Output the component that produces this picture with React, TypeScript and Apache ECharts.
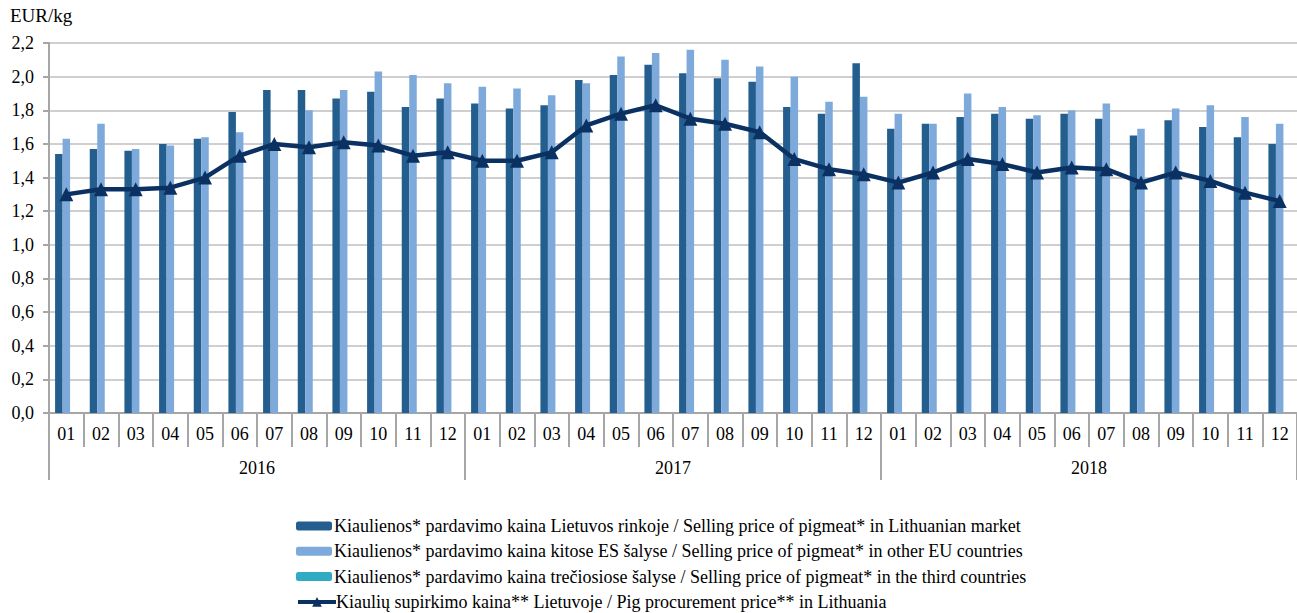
import React, { useEffect, useRef } from "react";
import * as echarts from "echarts";

const months = [
  "01","02","03","04","05","06","07","08","09","10","11","12",
  "01","02","03","04","05","06","07","08","09","10","11","12",
  "01","02","03","04","05","06","07","08","09","10","11","12",
];
const years = ["2016", "2017", "2018"];

const lithuanianMarket = [
  1.54, 1.57, 1.56, 1.60, 1.63, 1.79, 1.92, 1.92, 1.87, 1.91, 1.82, 1.87,
  1.84, 1.81, 1.83, 1.98, 2.01, 2.07, 2.02, 1.99, 1.97, 1.82, 1.78, 2.08,
  1.69, 1.72, 1.76, 1.78, 1.75, 1.78, 1.75, 1.65, 1.74, 1.70, 1.64, 1.60,
];
const otherEU = [
  1.63, 1.72, 1.57, 1.59, 1.64, 1.67, 1.56, 1.80, 1.92, 2.03, 2.01, 1.96,
  1.94, 1.93, 1.89, 1.96, 2.12, 2.14, 2.16, 2.10, 2.06, 2.00, 1.85, 1.88,
  1.78, 1.72, 1.90, 1.82, 1.77, 1.80, 1.84, 1.69, 1.81, 1.83, 1.76, 1.72,
];
const thirdCountries: (number | null)[] = months.map(() => null);
const procurement = [
  1.30, 1.33, 1.33, 1.34, 1.40, 1.53, 1.60, 1.58, 1.61, 1.59, 1.53, 1.55,
  1.50, 1.50, 1.55, 1.71, 1.78, 1.83, 1.75, 1.72, 1.67, 1.51, 1.45, 1.42,
  1.37, 1.43, 1.51, 1.48, 1.43, 1.46, 1.45, 1.37, 1.43, 1.38, 1.31, 1.26,
];

const seriesNames = [
  "Kiaulienos* pardavimo kaina Lietuvos rinkoje / Selling price of pigmeat* in Lithuanian market",
  "Kiaulienos* pardavimo kaina kitose ES šalyse / Selling price of pigmeat* in other EU countries",
  "Kiaulienos* pardavimo kaina trečiosiose šalyse / Selling price of pigmeat* in the third countries",
  "Kiaulių supirkimo kaina** Lietuvoje / Pig procurement price** in Lithuania",
];

const FONT = "Liberation Serif";
const GRAY = "#a6a6a6";
const NAVY = "#0b3163";

export default function App() {
  const ref = useRef<HTMLDivElement>(null);
  useEffect(() => {
    if (!ref.current) return;
    const chart = echarts.init(ref.current, undefined, { renderer: "svg" });
    chart.setOption({
      animation: false,
      backgroundColor: "#ffffff",
      textStyle: { fontFamily: FONT, color: "#000" },
      grid: { left: 49, right: 0, top: 43, bottom: 200, containLabel: false },
      graphic: [
        {
          type: "text",
          left: 10,
          top: 6,
          style: { text: "EUR/kg", fontFamily: FONT, fontSize: 19, fill: "#000" },
        },
      ],
      legend: seriesNames.map((n, i) => ({
        orient: "horizontal",
        left: 296,
        top: 517 + i * 25.3,
        itemWidth: i === 3 ? 38 : 36,
        itemHeight: i === 3 ? 12 : 9,
        padding: 0,
        textStyle: { fontFamily: FONT, fontSize: 18, color: "#000", padding: [0, 0, 0, i === 3 ? -5 : -3] },
        ...(i === 3 ? { lineStyle: { width: 4, color: NAVY } } : {}),
        data: [n],
      })),
      xAxis: [
        {
          type: "category",
          data: months,
          position: "bottom",
          axisLine: { show: true, lineStyle: { color: GRAY, width: 2 } },
          axisTick: { show: true, length: 34, alignWithLabel: false, lineStyle: { color: GRAY, width: 2 } },
          axisLabel: { margin: 12, fontFamily: FONT, fontSize: 18, color: "#000", interval: 0 },
          splitLine: { show: false },
        },
        {
          type: "category",
          data: years,
          position: "bottom",
          axisLine: { show: false },
          axisTick: { show: true, length: 67, alignWithLabel: false, lineStyle: { color: GRAY, width: 2 } },
          axisLabel: { margin: 46, fontFamily: FONT, fontSize: 18, color: "#000", interval: 0 },
          splitLine: { show: false },
        },
      ],
      yAxis: {
        type: "value",
        min: 0,
        max: 2.2,
        interval: 0.2,
        axisLine: { show: true, lineStyle: { color: GRAY, width: 2 } },
        axisTick: { show: true, length: 6, lineStyle: { color: GRAY, width: 2 } },
        axisLabel: {
          margin: 15,
          fontFamily: FONT,
          fontSize: 18,
          color: "#000",
          formatter: (v: number) => v.toFixed(1).replace(".", ","),
        },
        splitLine: { show: true, lineStyle: { color: "#bfbfbf", width: 1.5 } },
      },
      series: [
        {
          name: seriesNames[0],
          type: "bar",
          data: lithuanianMarket,
          barWidth: 7.5,
          barGap: "0%",
          itemStyle: { color: "#235e8f" },
        },
        {
          name: seriesNames[1],
          type: "bar",
          data: otherEU,
          barWidth: 7.5,
          barGap: "0%",
          itemStyle: { color: "#7eaadb" },
        },
        {
          name: seriesNames[2],
          type: "bar",
          data: thirdCountries,
          barWidth: 7.5,
          barGap: "0%",
          itemStyle: { color: "#31abc3" },
        },
        {
          name: seriesNames[3],
          type: "line",
          data: procurement,
          symbol: "triangle",
          symbolSize: 14,
          lineStyle: { color: NAVY, width: 4.5 },
          itemStyle: { color: NAVY },
          z: 5,
        },
      ],
    });
    return () => chart.dispose();
  }, []);
  return (
    <div
      ref={ref}
      style={{ position: "fixed", left: 0, top: 0, width: 1297, height: 613, background: "#fff" }}
    />
  );
}
